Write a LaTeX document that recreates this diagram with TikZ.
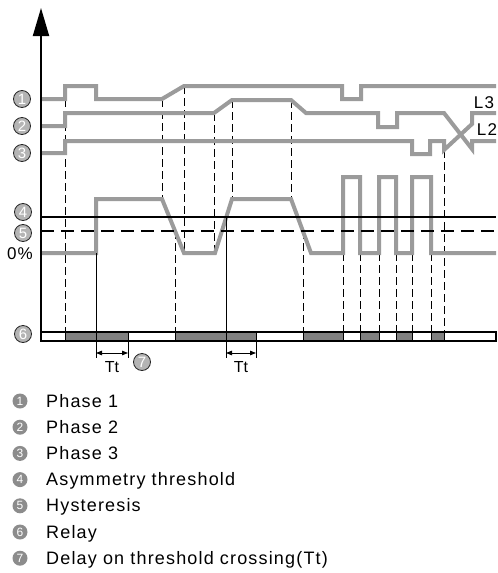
\documentclass[tikz,border=0pt]{standalone}
\usepackage{fontspec}
\setmainfont{Liberation Sans}
\newfontfamily\legendfont{Liberation Sans}[LetterSpace=6.5]
\usetikzlibrary{
    arrows.meta
}

\definecolor{siggray}{HTML}{9B9B9B}
\definecolor{relaygray}{HTML}{808080}
\definecolor{markgray}{HTML}{B4B4B4}
\definecolor{keygray}{HTML}{8C8C8C}

\tikzset{
    signal/.style={siggray, line width=4pt},
    guide/.style={line width=0.8pt, dash pattern=on 8pt off 4pt},
    tick/.style={line width=0.8pt},
    numcircle/.style={circle, draw=black!85, fill=markgray, line width=0.8pt,
        minimum size=17pt, inner sep=0pt, text=white,
        font=\fontsize{15}{15}\selectfont},
    keycircle/.style={circle, fill=keygray, minimum size=15pt, inner sep=0pt,
        text=white, font=\fontsize{12}{12}\selectfont},
    lbl/.style={font=\legendfont\fontsize{17}{20}\selectfont},
    keytext/.style={font=\legendfont\fontsize{18}{20}\selectfont,
        inner sep=0pt, anchor=base west}
}

\begin{document}
\begin{tikzpicture}[x=1pt,y=-1pt]

\useasboundingbox (0,0) rectangle (498,573);

% Guides
\foreach \x/\ya/\yb in {65/99/332, 162/99/199, 184/86/253, 175/231/332,
    214/113/253, 232/100/199, 291/100/199, 303/231/332, 343/253/332,
    360/253/332, 379/253/332, 396/253/332, 412/253/332, 431/253/332,
    444/150/332}{
    \draw[guide] (\x,\ya) -- (\x,\yb);
}

% Phase 1
\draw[signal]
(41,99)--(65,99)--(65,86)--(96,86)--(96,99)--(162,99)--(184,86)--
(342,86)--(342,99)--(361,99)--(361,86)--(496,86);

% Phase 2
\draw[signal]
(41,126)--(65,126)--(65,113)--(214,113)--(232,100)--(291,100)--
(306,113)--(378,113)--(378,127)--(397,127)--(397,113)--(444,113)--
(472,149)--(472,141)--(496,141);

% Phase 3
\draw[signal]
(41,153)--(65,153)--(65,141)--(412,141)--(412,154)--(430,154)--
(430,141)--(444,141)--(444,150)--(472,124)--(472,113)--(496,113);

% Asymmetry
\draw[signal]
(41,253)--(96,253)--(96,199)--(162,199)--(184,253)--(215,253)--
(232,199)--(291,199)--(311,253)--(343,253)--(343,177)--(360,177)--
(360,253)--(379,253)--(379,177)--(396,177)--(396,253)--(412,253)--
(412,177)--(431,177)--(431,253)--(496,253);

% Threshold and hysteresis
\draw[line width=1.4pt] (41,217) -- (496,217);
\draw[line width=1.4pt, dash pattern=on 13pt off 7pt] (41,231) -- (496,231);

% Relay
\draw[line width=1.2pt, fill=white] (41,332) rectangle (496,341);
\foreach \xa/\xb in {65/128, 175/256, 303/343, 360/379, 396/412, 431/444}{
    \draw[line width=0.8pt, fill=relaygray] (\xa,332) rectangle (\xb,341);
}
\draw[line width=1.2pt] (41,332) rectangle (496,341);

% Delay marks
\foreach \xa/\xb/\ya in {96/128/253, 226/256/217}{
    \draw[tick] (\xa,\ya) -- (\xa,358);
    \draw[tick] (\xb,341) -- (\xb,358);
    \draw[tick, {Triangle[length=6pt,width=4.5pt]}-{Triangle[length=6pt,width=4.5pt]}]
        (\xa,353) -- (\xb,353);
}
\node[font=\fontsize{16}{16}\selectfont] (tt1) at (112,367) {Tt};
\node[font=\fontsize{16}{16}\selectfont] (tt2) at (241,367) {Tt};

% Axis
\draw[line width=2pt, -{Triangle[length=28pt,width=16pt]}] (41,341) -- (41,8);

% Labels
\node[numcircle] (p1) at (22,99) {1};
\node[numcircle] (p2) at (22,126) {2};
\node[numcircle] (p3) at (22,153) {3};
\node[numcircle] (thr) at (23,212) {4};
\node[numcircle] (hys) at (23,233) {5};
\node[lbl] (zero) at (20,254) {0\%};
\node[numcircle] (rel) at (23,334) {6};
\node[numcircle] (dly) at (142,362) {7};
\node[lbl] (l3) at (484,103) {L3};
\node[lbl] (l2) at (487,130) {L2};

% Legend
\foreach \n/\txt [count=\i from 0] in {1/Phase 1, 2/Phase 2, 3/Phase 3,
    4/Asymmetry threshold, 5/Hysteresis, 6/Relay,
    7/Delay on threshold crossing(Tt)}{
    \node[keycircle] (k\n) at (20,{401+26.2*\i}) {\n};
    \node[keytext] (t\n) at (46,{407+26.2*\i}) {\txt};
}

\end{tikzpicture}
\end{document}
